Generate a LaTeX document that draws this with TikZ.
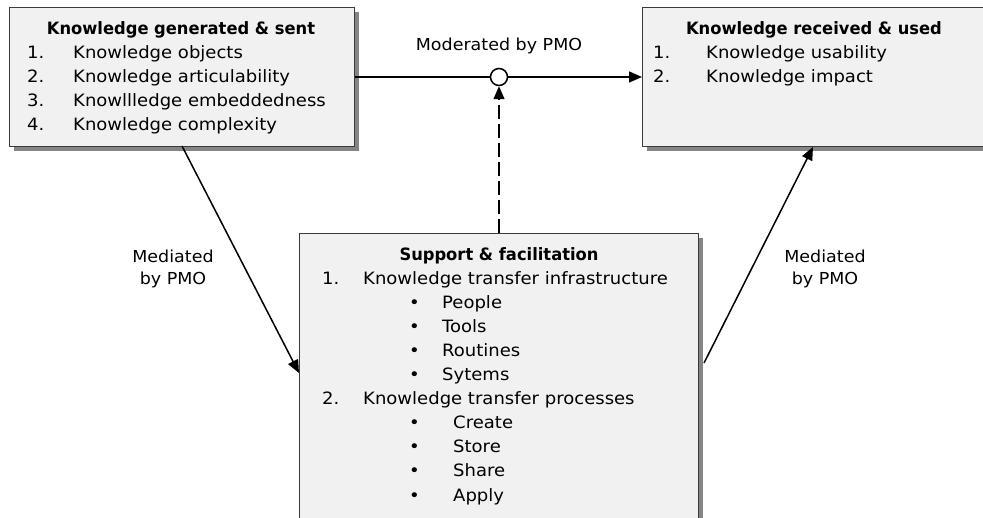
\documentclass[tikz,border=0pt]{standalone}
\usepackage{fontspec}
\setmainfont{DejaVu Sans}[FakeStretch=1.06, BoldFeatures={FakeStretch=0.96}]
\usetikzlibrary{arrows.meta,shadows}
\definecolor{boxfill}{HTML}{F1F1F1}
\definecolor{boxline}{HTML}{3A3A3A}
\definecolor{shade}{HTML}{858585}
\begin{document}
\begin{tikzpicture}[x=1pt,y=-1pt,
  box/.style={draw=boxline, line width=1.3pt, fill=boxfill, anchor=north west, inner sep=0pt,
    drop shadow={shadow xshift=4.5pt, shadow yshift=-4.5pt, fill=shade, opacity=1}},
  txt/.style={font=\fontsize{17}{20}\selectfont, inner sep=0pt, anchor=base west},
  ttl/.style={font=\fontsize{17}{20}\selectfont\bfseries, inner sep=0pt, anchor=base},
  lbl/.style={font=\fontsize{16.5}{22}\selectfont, inner sep=0pt, align=center},
  conn/.style={line width=1.5pt, -{Triangle[length=13pt,width=11pt]}}]
\useasboundingbox (0,0) rectangle (983,518);
% boxes
\node[box, minimum width=345pt, minimum height=139pt] (kg) at (9,7) {};
\node[box, minimum width=360pt, minimum height=139pt] (kr) at (642,7) {};
\node[box, minimum width=399pt, minimum height=300pt] (sf) at (299,233) {};
% left box text
\node[ttl] (kgt) at (181,35) {Knowledge generated \& sent};
\node[txt] (kg1n) at (27,59) {1.}; \node[txt] (kg1) at (73,59) {Knowledge objects};
\node[txt] (kg2n) at (27,83) {2.}; \node[txt] (kg2) at (73,83) {Knowledge articulability};
\node[txt] (kg3n) at (27,107) {3.}; \node[txt] (kg3) at (73,107) {Knowllledge embeddedness};
\node[txt] (kg4n) at (27,131) {4.}; \node[txt] (kg4) at (73,131) {Knowledge complexity};
% right box text
\node[ttl] (krt) at (814,35) {Knowledge received \& used};
\node[txt] (kr1n) at (653,59) {1.}; \node[txt] (kr1) at (706,59) {Knowledge usability};
\node[txt] (kr2n) at (653,83) {2.}; \node[txt] (kr2) at (706,83) {Knowledge impact};
% bottom box text
\node[ttl] (sft) at (499,261) {Support \& facilitation};
\node[txt] (s1n) at (322,285) {1.}; \node[txt] (s1) at (363,285) {Knowledge transfer infrastructure};
\node[txt] (b1) at (409,309) {•}; \node[txt] (p1) at (442,309) {People};
\node[txt] (b2) at (409,333) {•}; \node[txt] (p2) at (442,333) {Tools};
\node[txt] (b3) at (409,357) {•}; \node[txt] (p3) at (442,357) {Routines};
\node[txt] (b4) at (409,381) {•}; \node[txt] (p4) at (442,381) {Sytems};
\node[txt] (s2n) at (322,405) {2.}; \node[txt] (s2) at (363,405) {Knowledge transfer processes};
\node[txt] (b5) at (409,429) {•}; \node[txt] (q1) at (453,429) {Create};
\node[txt] (b6) at (409,453) {•}; \node[txt] (q2) at (453,453) {Store};
\node[txt] (b7) at (409,477) {•}; \node[txt] (q3) at (453,477) {Share};
\node[txt] (b8) at (409,501) {•}; \node[txt] (q4) at (453,501) {Apply};
% moderator
\node[draw, line width=1.5pt, fill=white, circle, minimum size=17pt, inner sep=0pt] (mod) at (499,77) {};
\node[lbl, anchor=base] (modl) at (499,51) {Moderated by PMO};
\coordinate (kgE) at (kg.east |- mod);
\coordinate (krW) at (kr.west |- mod);
\draw[line width=1.5pt] (kgE) -- (mod);
\draw[conn] (mod) -- (krW);
\draw[conn, dash pattern=on 14pt off 5pt] (sf.north -| mod) -- (mod.south);
% mediated arrows
\coordinate (a1) at (182,146);
\coordinate (a2) at (299,373);
\draw[conn] (a1) -- (a2);
\coordinate (c1) at (704,363);
\coordinate (c2) at (813,147);
\draw[conn] (c1) -- (c2);
\node[lbl] (m1) at (173,269) {Mediated\\by PMO};
\node[lbl] (m2) at (825,269) {Mediated\\by PMO};
\end{tikzpicture}
\end{document}
